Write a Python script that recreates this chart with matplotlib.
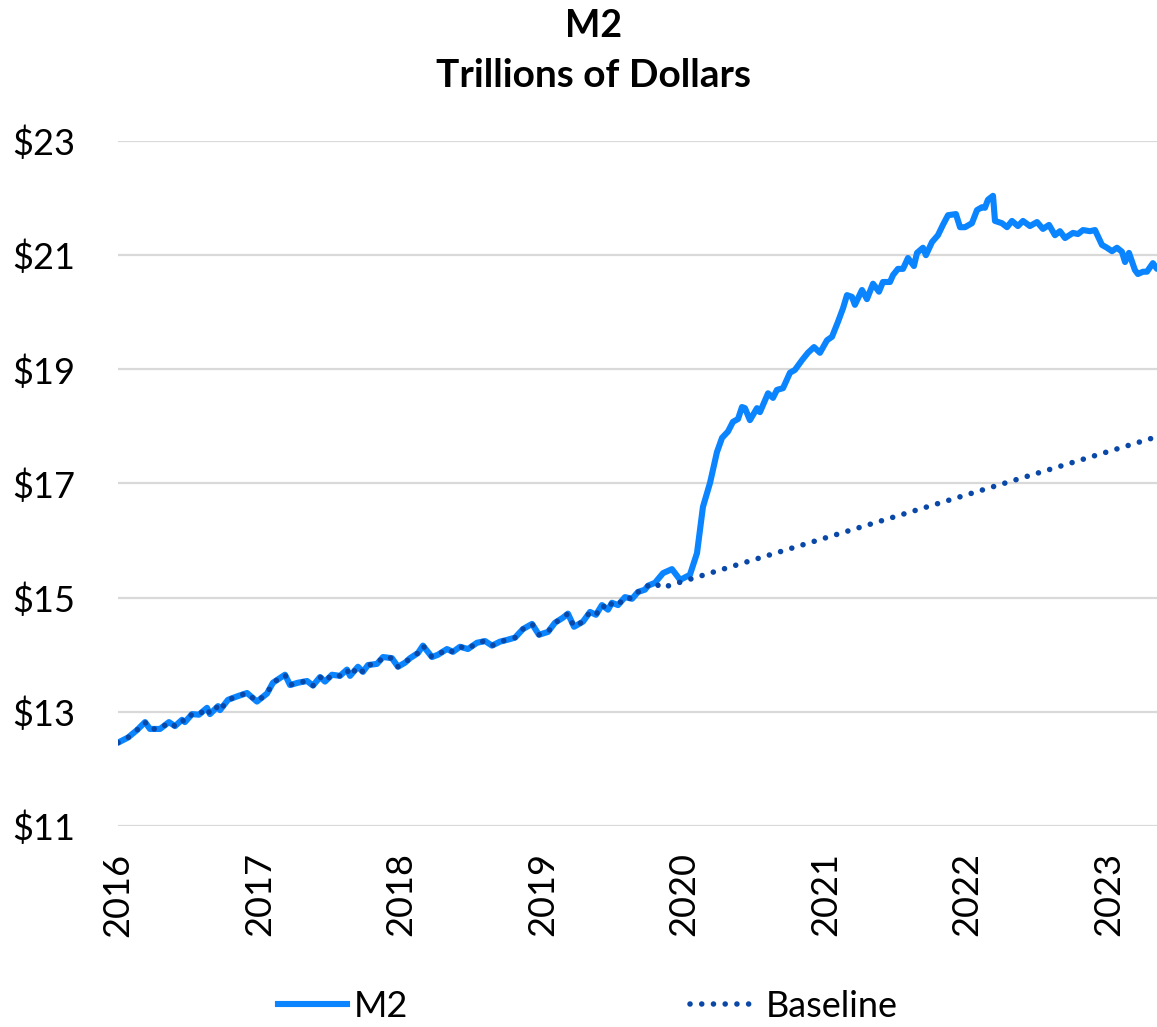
import numpy as np
import matplotlib
matplotlib.use('Agg')
import matplotlib.pyplot as plt
from matplotlib.lines import Line2D
from matplotlib.ticker import FuncFormatter

plt.rcParams['font.family'] = ['Lato', 'DejaVu Sans']

# M2, trillions of dollars (decimal years)
m2_year = [
    2016.000, 2016.071, 2016.134, 2016.191, 2016.226, 2016.297, 2016.360, 2016.403,
    2016.452, 2016.473, 2016.523, 2016.572, 2016.629, 2016.650, 2016.707, 2016.721,
    2016.777, 2016.841, 2016.912, 2016.982, 2017.053, 2017.095, 2017.180, 2017.216,
    2017.272, 2017.336, 2017.378, 2017.428, 2017.463, 2017.512, 2017.569, 2017.618,
    2017.640, 2017.696, 2017.731, 2017.767, 2017.830, 2017.873, 2017.936, 2017.979,
    2018.028, 2018.064, 2018.120, 2018.155, 2018.219, 2018.261, 2018.325, 2018.367,
    2018.417, 2018.473, 2018.537, 2018.594, 2018.643, 2018.700, 2018.749, 2018.806,
    2018.862, 2018.926, 2018.975, 2019.039, 2019.088, 2019.145, 2019.180, 2019.223,
    2019.286, 2019.336, 2019.378, 2019.420, 2019.463, 2019.491, 2019.534, 2019.583,
    2019.633, 2019.675, 2019.724, 2019.746, 2019.795, 2019.852, 2019.915, 2019.958,
    2019.972, 2020.042, 2020.092, 2020.134, 2020.184, 2020.233, 2020.269, 2020.311,
    2020.346, 2020.382, 2020.410, 2020.431, 2020.466, 2020.516, 2020.537, 2020.594,
    2020.629, 2020.657, 2020.700, 2020.749, 2020.784, 2020.834, 2020.876, 2020.919,
    2020.961, 2021.011, 2021.046, 2021.088, 2021.124, 2021.152, 2021.187, 2021.208,
    2021.258, 2021.293, 2021.336, 2021.378, 2021.406, 2021.456, 2021.477, 2021.512,
    2021.548, 2021.583, 2021.625, 2021.647, 2021.689, 2021.710, 2021.753, 2021.795,
    2021.830, 2021.866, 2021.922, 2021.951, 2021.986, 2022.035, 2022.071, 2022.106,
    2022.127, 2022.148, 2022.184, 2022.198, 2022.247, 2022.283, 2022.318, 2022.360,
    2022.396, 2022.445, 2022.495, 2022.537, 2022.580, 2022.622, 2022.657, 2022.693,
    2022.749, 2022.784, 2022.820, 2022.869, 2022.905, 2022.954, 2022.989, 2023.025,
    2023.060, 2023.095, 2023.117, 2023.145, 2023.187, 2023.208, 2023.244, 2023.272,
    2023.314, 2023.343,
]
m2_value = [
    12.46, 12.55, 12.68, 12.82, 12.70, 12.70, 12.82, 12.75,
    12.86, 12.82, 12.96, 12.95, 13.07, 12.96, 13.10, 13.03,
    13.21, 13.27, 13.33, 13.18, 13.32, 13.51, 13.65, 13.47,
    13.51, 13.54, 13.46, 13.61, 13.53, 13.65, 13.63, 13.74,
    13.63, 13.79, 13.70, 13.82, 13.84, 13.96, 13.94, 13.79,
    13.86, 13.94, 14.03, 14.16, 13.96, 14.00, 14.10, 14.05,
    14.14, 14.10, 14.21, 14.24, 14.16, 14.23, 14.26, 14.30,
    14.45, 14.54, 14.35, 14.40, 14.56, 14.65, 14.72, 14.49,
    14.58, 14.75, 14.70, 14.87, 14.79, 14.91, 14.87, 15.01,
    14.98, 15.10, 15.14, 15.21, 15.26, 15.43, 15.50, 15.36,
    15.31, 15.40, 15.78, 16.59, 17.01, 17.55, 17.80, 17.91,
    18.08, 18.13, 18.34, 18.32, 18.11, 18.32, 18.25, 18.58,
    18.50, 18.64, 18.67, 18.94, 18.99, 19.16, 19.29, 19.39,
    19.29, 19.51, 19.57, 19.83, 20.07, 20.30, 20.27, 20.13,
    20.39, 20.23, 20.50, 20.36, 20.53, 20.53, 20.65, 20.76,
    20.76, 20.95, 20.81, 21.04, 21.13, 21.00, 21.23, 21.35,
    21.53, 21.70, 21.72, 21.49, 21.49, 21.56, 21.79, 21.84,
    21.83, 21.97, 22.04, 21.60, 21.56, 21.49, 21.60, 21.51,
    21.60, 21.51, 21.58, 21.46, 21.53, 21.35, 21.42, 21.30,
    21.39, 21.37, 21.44, 21.42, 21.44, 21.18, 21.13, 21.07,
    21.13, 21.06, 20.88, 21.04, 20.74, 20.67, 20.71, 20.71,
    20.86, 20.76,
]

# baseline follows M2 until late 2019, then a straight trend
baseline_split = 2019.80
trend_year = [2019.84, 2023.343]
trend_value = [15.17, 17.82]

years = [2016, 2017, 2018, 2019, 2020, 2021, 2022, 2023]

m2_year = np.array(m2_year)
m2_value = np.array(m2_value)
keep = m2_year <= baseline_split
baseline_year = np.concatenate([m2_year[keep], trend_year])
baseline_value = np.concatenate([m2_value[keep], trend_value])

m2_color = '#0a84ff'
base_color = '#0a48a8'
dots = (0, (0.01, 2.1))

fig = plt.figure(figsize=(11.57, 10.27), dpi=100)
ax = fig.add_axes([118 / 1157, 1 - 826 / 1027, 1 - 118 / 1157, (826 - 141) / 1027])

ax.plot(m2_year, m2_value, color=m2_color, lw=4.4, solid_joinstyle='round',
        solid_capstyle='round', zorder=2)
ax.plot(baseline_year, baseline_value, color=base_color, lw=4.0,
        linestyle=dots, dash_capstyle='round', zorder=3)

ax.set_xlim(2016, 2023.343)
ax.set_ylim(11, 23)
ax.set_yticks(range(11, 24, 2))
ax.yaxis.set_major_formatter(FuncFormatter(lambda v, p: f'${v:.0f}'))
ax.set_xticks(years)
ax.set_xticklabels([str(y) for y in years], rotation=90)

ax.grid(axis='y', color='#d9d9d9', lw=1.6)
ax.grid(axis='x', visible=False)
ax.set_axisbelow(True)
for s in ax.spines.values():
    s.set_visible(False)
ax.tick_params(axis='both', length=0, labelsize=26, colors='black')
ax.tick_params(axis='y', pad=31)
ax.tick_params(axis='x', pad=19)
ax.set_facecolor('white')

fig.text(0.513, 0.975, 'M2', ha='center', va='center', fontsize=27, fontweight='bold')
fig.text(0.513, 0.926, 'Trillions of Dollars', ha='center', va='center',
         fontsize=28, fontweight='bold')

handles = [
    Line2D([0], [0], color=m2_color, lw=4.4, label='M2'),
    Line2D([0], [0], color=base_color, lw=4.0, linestyle=dots,
           dash_capstyle='round', label='Baseline'),
]
fig.legend(handles=handles, loc='center', bbox_to_anchor=(0.508, 0.02), ncol=2,
           frameon=False, fontsize=26, handlelength=1.9, handletextpad=0.2,
           columnspacing=7.8)

fig.savefig('out.png', dpi=100, facecolor='white')
